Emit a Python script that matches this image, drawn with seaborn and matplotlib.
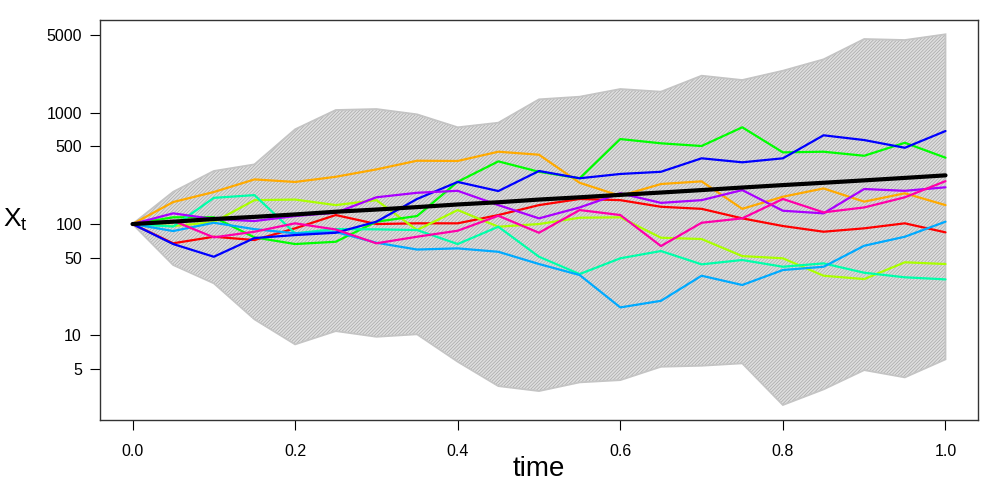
#!/usr/bin/env python3
"""
Simulated geometric Brownian motion paths with envelope band (log scale)
"""

import numpy as np
import pandas as pd
import matplotlib
matplotlib.use("Agg")
import matplotlib.pyplot as plt
import seaborn as sns

# Data
time = [0.0, 0.05, 0.1, 0.15, 0.2, 0.25, 0.3, 0.35, 0.4, 0.45, 0.5,
        0.55, 0.6, 0.65, 0.7, 0.75, 0.8, 0.85, 0.9, 0.95, 1.0]

upper = [100, 195, 300, 344, 711, 1060, 1082, 969, 741, 815, 1322,
         1396, 1637, 1549, 2157, 1972, 2391, 3027, 4610, 4515, 5083]
lower = [100, 42.8, 29.3, 13.9, 8.28, 10.9, 9.69, 10.2, 5.78, 3.49, 3.15,
         3.77, 3.95, 5.21, 5.32, 5.59, 2.36, 3.26, 4.86, 4.18, 6.07]

mean_path = [100, 105, 111, 116, 122, 129, 135, 142, 150, 157, 166,
             174, 183, 192, 202, 213, 224, 235, 247, 260, 274]

path_red = [100, 67.1, 76.9, 71.8, 91.5, 120.5, 100, 101.5, 101.5, 120.5, 148,
            168, 164, 143, 137, 112.5, 96, 85.3, 91.5, 101.5, 84.2]
path_orange = [100, 157.7, 194, 252, 239, 266, 310, 371, 369, 447, 420,
               235, 179, 229, 242, 137, 176, 209, 159, 189, 148]
path_yellowgreen = [100, 96, 104, 164, 166, 148, 164, 88.3, 133.6, 94.6, 100,
                    114, 115, 75.3, 73.3, 51.5, 49.2, 34.3, 32, 45.3, 43.7]
path_green = [100, 115, 115, 75.9, 66.1, 69.3, 105, 118, 240, 366, 295,
              258, 581, 532, 503, 741, 441, 447, 411, 538, 395]
path_aqua = [100, 95, 172, 182, 82.5, 90.2, 89.6, 88.3, 66.1, 94.6, 50.8,
             35.5, 49.2, 57.2, 43.4, 47.5, 41.3, 44.3, 36.5, 33.2, 31.8]
path_lightblue = [100, 86.5, 102.7, 90, 82.5, 84.8, 67.9, 59, 60.4, 56.3, 43.7,
                  34.8, 17.8, 20.4, 34.3, 28.3, 38.6, 41.3, 63.8, 76.9, 105]
path_blue = [100, 66.1, 50.8, 74.8, 79.6, 83.5, 105, 168, 239, 198, 300,
             258, 282, 295, 390, 359, 390, 628, 569, 485, 686]
path_purple = [100, 124.8, 110.9, 106.4, 118, 126.4, 174, 191, 199, 148, 112.5,
               141, 189, 155, 164, 202, 131.7, 124.8, 206.5, 199, 214]
path_pink = [100, 107, 75.9, 85.3, 101.5, 89.3, 67.1, 76.9, 87.1, 118.7, 83.5,
             133.6, 120.5, 63.4, 102.7, 112.5, 168, 127.4, 141, 174, 243]

paths = {
    "1": path_red, "2": path_orange, "3": path_yellowgreen,
    "4": path_green, "5": path_aqua, "6": path_lightblue,
    "7": path_blue, "8": path_purple, "9": path_pink,
}
# R rainbow(9)
colors = ["#FF0000", "#FFAA00", "#AAFF00", "#00FF00", "#00FFAA",
          "#00AAFF", "#0000FF", "#AA00FF", "#FF00AA"]

x_ticks = [0.0, 0.2, 0.4, 0.6, 0.8, 1.0]
y_ticks = [5, 10, 50, 100, 500, 1000, 5000]


def main():
    sns.set_style("white")
    plt.rcParams["font.family"] = ["Liberation Sans", "DejaVu Sans"]
    plt.rcParams["hatch.linewidth"] = 0.5

    df = pd.DataFrame([
        {"time": t, "value": v, "path": name}
        for name, vals in paths.items()
        for t, v in zip(time, vals)
    ])

    fig = plt.figure(figsize=(10, 5), dpi=100)
    ax = fig.add_axes([0.1, 0.16, 0.878, 0.80])

    # Envelope band
    ax.fill_between(time, lower, upper, facecolor="#dedede",
                    edgecolor="#a8a8a8", hatch="//////////", linewidth=0,
                    zorder=1)
    ax.fill(time + time[::-1], upper + lower[::-1], facecolor="none",
            edgecolor="#c4c4c4", linewidth=1.3, zorder=1.5)

    # Simulated paths
    sns.lineplot(data=df, x="time", y="value", hue="path", palette=colors,
                 linewidth=1.6, legend=False, ax=ax, zorder=3)

    # Mean path
    ax.plot(time, mean_path, color="black", linewidth=3.0, zorder=4)

    ax.set_yscale("log")
    ax.set_xlim(-0.04, 1.04)
    ax.set_ylim(1.73, 6834)
    ax.set_xticks(x_ticks)
    ax.set_xticklabels([f"{v:.1f}" for v in x_ticks])
    ax.set_yticks(y_ticks)
    ax.set_yticklabels([str(v) for v in y_ticks])
    ax.minorticks_off()
    ax.tick_params(axis="both", direction="out", length=7, width=0.8,
                   color="black", labelcolor="black", labelsize=11.5,
                   bottom=True, left=True)
    ax.tick_params(axis="x", pad=10)
    ax.tick_params(axis="y", pad=6)

    for sp in ax.spines.values():
        sp.set_color("#333333")
        sp.set_linewidth(1.0)

    ax.set_xlabel("time", fontsize=20, labelpad=-2, color="black")
    ax.set_ylabel(r"$\mathregular{X_t}$", fontsize=19, rotation=0,
                  labelpad=22, va="center", color="black")

    fig.savefig("out.png", dpi=100)
    plt.close(fig)


if __name__ == "__main__":
    main()
